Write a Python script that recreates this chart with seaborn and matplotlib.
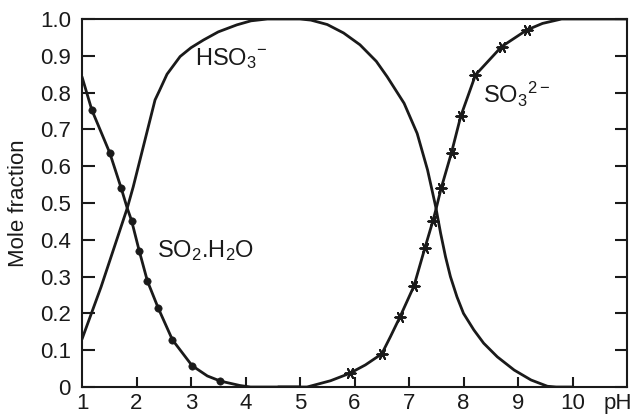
import matplotlib
matplotlib.use("Agg")
import matplotlib.pyplot as plt
import seaborn as sns

# ---- data ----
so2_line_x = [1.0, 1.18, 1.51, 1.72, 1.83, 1.91, 2.05, 2.20, 2.40, 2.66, 3.02, 3.30, 3.54, 3.72, 3.90, 4.09, 4.50, 5.00]
so2_line_y = [0.843, 0.753, 0.636, 0.540, 0.486, 0.452, 0.370, 0.288, 0.214, 0.128, 0.058, 0.030, 0.016, 0.010, 0.004, 0.0, 0.0, 0.0]
so2_mark_x = [1.18, 1.51, 1.72, 1.91, 2.05, 2.20, 2.40, 2.66, 3.02, 3.54]
so2_mark_y = [0.753, 0.636, 0.540, 0.452, 0.370, 0.288, 0.214, 0.128, 0.058, 0.016]

hso3_x = [1.0, 1.35, 1.83, 1.94, 2.34, 2.42, 2.56, 2.80, 3.00, 3.23, 3.50, 3.84, 4.10, 4.40, 5.00,
          5.20, 5.50, 5.80, 6.10, 6.40, 6.60, 6.91, 7.15, 7.34, 7.49, 7.58, 7.67, 7.76, 7.88,
          8.00, 8.19, 8.37, 8.62, 8.93, 9.24, 9.54, 9.70, 10.0]
hso3_y = [0.13, 0.272, 0.486, 0.544, 0.780, 0.805, 0.850, 0.898, 0.922, 0.943, 0.965, 0.984, 0.995, 1.0, 1.0,
          0.997, 0.985, 0.962, 0.930, 0.885, 0.843, 0.771, 0.689, 0.590, 0.490, 0.418, 0.354, 0.300, 0.245,
          0.200, 0.155, 0.119, 0.082, 0.046, 0.019, 0.002, 0.0, 0.0]

so3_line_x = [4.60, 5.13, 5.56, 5.91, 6.20, 6.50, 6.66, 6.83, 7.09, 7.29, 7.44, 7.49, 7.59, 7.78, 7.95,
              8.22, 8.70, 9.16, 9.45, 9.80, 11.0]
so3_line_y = [0.0, 0.0, 0.017, 0.037, 0.060, 0.090, 0.137, 0.189, 0.274, 0.377, 0.452, 0.480, 0.540, 0.637, 0.736,
              0.848, 0.925, 0.970, 0.988, 1.0, 1.0]
so3_mark_x = [5.91, 6.50, 6.83, 7.09, 7.29, 7.44, 7.59, 7.78, 7.95, 8.22, 8.70, 9.16]
so3_mark_y = [0.037, 0.090, 0.189, 0.274, 0.377, 0.452, 0.540, 0.637, 0.736, 0.848, 0.925, 0.970]

x_ticks = [1, 2, 3, 4, 5, 6, 7, 8, 9, 10]
y_ticks = [0, 0.1, 0.2, 0.3, 0.4, 0.5, 0.6, 0.7, 0.8, 0.9, 1.0]
y_tick_labels = ["0", "0.1", "0.2", "0.3", "0.4", "0.5", "0.6", "0.7", "0.8", "0.9", "1.0"]

# ---- styling ----
sns.set_theme(style="ticks")
plt.rcParams["font.family"] = ["Liberation Sans", "DejaVu Sans"]
plt.rcParams["mathtext.fontset"] = "custom"
plt.rcParams["mathtext.rm"] = "Liberation Sans"
plt.rcParams["mathtext.it"] = "Liberation Sans"
plt.rcParams["mathtext.default"] = "regular"

ink = "#1a1a1a"
fig = plt.figure(figsize=(6.34, 4.17), dpi=100)
ax = fig.add_axes([82 / 634, 30 / 417, 545 / 634, 368 / 417])

lw = 2.0
sns.lineplot(x=so2_line_x, y=so2_line_y, ax=ax, color=ink, lw=lw, sort=False, estimator=None)
sns.lineplot(x=hso3_x, y=hso3_y, ax=ax, color=ink, lw=lw, sort=False, estimator=None)
sns.lineplot(x=so3_line_x, y=so3_line_y, ax=ax, color=ink, lw=lw, sort=False, estimator=None)
sns.scatterplot(x=so2_mark_x, y=so2_mark_y, ax=ax, color=ink, s=28, marker="o",
                edgecolor=ink, zorder=5)
sns.scatterplot(x=so3_mark_x, y=so3_mark_y, ax=ax, color=ink, s=55, marker=(6, 2, 90),
                linewidth=1.4, edgecolor=ink, zorder=5)

ax.set_xlim(1, 11)
ax.set_ylim(0, 1.0)
ax.set_xticks(x_ticks[1:])
ax.set_yticks(y_ticks)
ax.set_yticklabels(y_tick_labels)

for s in ax.spines.values():
    s.set_linewidth(1.5)
    s.set_color(ink)

ax.tick_params(axis="y", which="both", direction="in", length=9, width=1.5, pad=8,
               labelsize=16, colors=ink, right=True, left=True, labelright=False)
ax.tick_params(axis="x", which="both", direction="in", length=7, width=1.5, pad=4,
               labelsize=16, colors=ink, top=False)

# x tick label "1" at the origin (no tick mark there) and the axis name "pH"
ax.annotate("1", xy=(1, 0), xycoords=("data", "axes fraction"), xytext=(0, -4.3),
            textcoords="offset points", ha="center", va="top", fontsize=16, color=ink)
ax.annotate("pH", xy=(10.83, 0), xycoords=("data", "axes fraction"), xytext=(0, -4.3),
            textcoords="offset points", ha="center", va="top", fontsize=16, color=ink,
            annotation_clip=False)

ax.set_ylabel("Mole fraction", fontsize=16, color=ink, labelpad=8)
ax.set_xlabel("")

ax.text(3.08, 0.875, r"HSO$_3$$^{-}$", fontsize=17, ha="left", va="baseline", color=ink)
ax.text(2.38, 0.352, r"SO$_2$.H$_2$O", fontsize=17, ha="left", va="baseline", color=ink)
ax.text(8.35, 0.771, r"SO$_3$$^{2-}$", fontsize=17, ha="left", va="baseline", color=ink)

fig.savefig("out.png", dpi=100, facecolor="white")
